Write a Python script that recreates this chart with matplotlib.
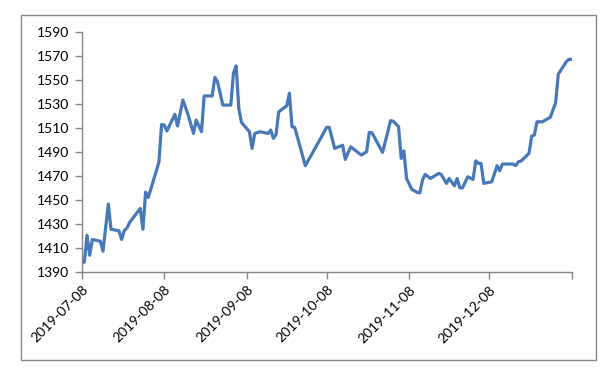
import matplotlib
matplotlib.use("Agg")
import matplotlib.pyplot as plt
import pandas as pd
from matplotlib.patches import Rectangle

# values
dates = [
    "2019-07-08", "2019-07-09", "2019-07-10", "2019-07-11", "2019-07-12", "2019-07-15",
    "2019-07-16", "2019-07-18", "2019-07-19", "2019-07-22", "2019-07-23", "2019-07-24",
    "2019-07-25", "2019-07-26", "2019-07-30", "2019-07-31", "2019-08-01", "2019-08-02",
    "2019-08-05", "2019-08-06", "2019-08-07", "2019-08-08", "2019-08-09", "2019-08-12",
    "2019-08-13", "2019-08-15", "2019-08-17", "2019-08-19", "2019-08-20", "2019-08-22",
    "2019-08-23", "2019-08-26", "2019-08-27", "2019-08-28", "2019-08-30", "2019-09-02",
    "2019-09-03", "2019-09-04", "2019-09-05", "2019-09-06", "2019-09-09", "2019-09-10",
    "2019-09-11", "2019-09-13", "2019-09-16", "2019-09-17", "2019-09-18", "2019-09-19",
    "2019-09-20", "2019-09-23", "2019-09-24", "2019-09-25", "2019-09-26", "2019-09-30",
    "2019-10-08", "2019-10-09", "2019-10-11", "2019-10-14", "2019-10-15", "2019-10-17",
    "2019-10-21", "2019-10-23", "2019-10-24", "2019-10-25", "2019-10-29", "2019-11-01",
    "2019-11-02", "2019-11-04", "2019-11-05", "2019-11-06", "2019-11-07", "2019-11-09",
    "2019-11-11", "2019-11-12", "2019-11-13", "2019-11-14", "2019-11-16", "2019-11-19",
    "2019-11-20", "2019-11-22", "2019-11-23", "2019-11-25", "2019-11-26", "2019-11-27",
    "2019-11-28", "2019-11-30", "2019-12-02", "2019-12-03", "2019-12-04", "2019-12-05",
    "2019-12-06", "2019-12-09", "2019-12-11", "2019-12-12", "2019-12-13", "2019-12-17",
    "2019-12-18", "2019-12-19", "2019-12-20", "2019-12-23", "2019-12-24", "2019-12-25",
    "2019-12-26", "2019-12-28", "2019-12-31", "2020-01-01", "2020-01-02", "2020-01-03",
    "2020-01-06", "2020-01-07", "2020-01-08",
]
prices = [
    1397.5, 1399.0, 1421.0, 1404.4, 1417.5, 1416.0,
    1407.7, 1447.0, 1426.0, 1424.7, 1417.5, 1425.0,
    1427.0, 1431.7, 1443.3, 1426.0, 1457.0, 1452.5,
    1474.4, 1482.0, 1513.3, 1512.8, 1507.8, 1521.7,
    1512.0, 1533.6, 1521.0, 1505.8, 1517.0, 1507.2,
    1537.0, 1537.0, 1552.5, 1549.0, 1529.4, 1529.4,
    1556.0, 1562.0, 1526.7, 1515.0, 1507.2, 1493.3,
    1505.8, 1507.2, 1505.8, 1508.6, 1501.7, 1505.0,
    1523.8, 1528.8, 1539.2, 1511.4, 1510.8, 1478.9,
    1510.8, 1510.8, 1493.3, 1496.0, 1484.2, 1494.7,
    1487.8, 1490.5, 1506.6, 1506.4, 1490.0, 1516.4,
    1516.0, 1511.4, 1485.0, 1491.3, 1468.3, 1459.2,
    1456.7, 1456.3, 1467.0, 1471.7, 1468.3, 1472.5,
    1471.7, 1464.2, 1468.3, 1462.2, 1468.3, 1460.5,
    1460.5, 1469.7, 1467.5, 1483.0, 1480.8, 1480.8,
    1464.2, 1465.5, 1478.9, 1474.7, 1480.3, 1480.3,
    1479.0, 1482.2, 1482.8, 1489.2, 1503.6, 1504.4,
    1515.5, 1515.5, 1519.2, 1525.3, 1531.4, 1555.2,
    1565.5, 1567.5, 1567.5,
]
tick_dates = ["2019-07-08", "2019-08-08", "2019-09-08", "2019-10-08",
              "2019-11-08", "2019-12-08", "2020-01-08"]
tick_labels = ["2019-07-08", "2019-08-08", "2019-09-08", "2019-10-08",
               "2019-11-08", "2019-12-08", ""]

plt.rcParams['font.family'] = ['Lato', 'DejaVu Sans']
grey = "#868686"

fig = plt.figure(figsize=(6.12, 3.74), dpi=100)
fig.patches.append(Rectangle((20.5 / 612, 1 - 360 / 374), 575 / 612, 345 / 374,
                             transform=fig.transFigure, fill=False,
                             edgecolor=grey, linewidth=1.0))
ax = fig.add_axes([0.1335, 0.2714, 0.8005, 0.6422])

x = pd.to_datetime(dates)
ax.plot(x, prices, color="#4778b8", linewidth=2.3, solid_joinstyle="round")

ax.set_xlim(pd.Timestamp("2019-07-08"), pd.Timestamp("2020-01-08"))
ax.set_ylim(1390, 1590)
ax.set_yticks(range(1390, 1591, 20))
ax.set_xticks(pd.to_datetime(tick_dates))
ax.set_xticklabels(tick_labels, rotation=45, ha="right", rotation_mode="anchor")

for side in ["top", "right"]:
    ax.spines[side].set_visible(False)
for side in ["left", "bottom"]:
    ax.spines[side].set_color(grey)
    ax.spines[side].set_linewidth(1.0)
ax.tick_params(axis="both", colors=grey, length=5, width=1.0, labelsize=10,
               labelcolor="black")
ax.tick_params(axis="y", pad=4)
ax.tick_params(axis="x", pad=3)

fig.savefig("out.png", dpi=100)
